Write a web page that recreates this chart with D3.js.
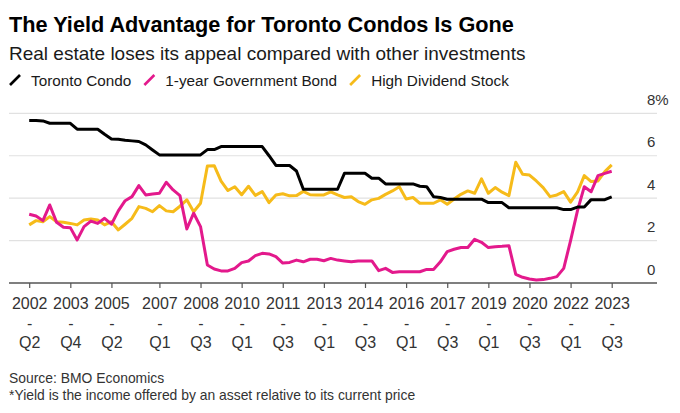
<!DOCTYPE html>
<html><head><meta charset="utf-8">
<script src="https://cdn.jsdelivr.net/npm/d3@7"></script>
<style>
body{margin:0;background:#fff}
svg{display:block}
text{font-family:"Liberation Sans",Arial,Helvetica,sans-serif}
</style>
</head><body><div id="chart"></div>
<script>
const quarters = [
 "2002Q2","2002Q3","2002Q4",
 "2003Q1","2003Q2","2003Q3","2003Q4","2004Q1","2004Q2","2004Q3","2004Q4",
 "2005Q1","2005Q2","2005Q3","2005Q4","2006Q1","2006Q2","2006Q3","2006Q4",
 "2007Q1","2007Q2","2007Q3","2007Q4","2008Q1","2008Q2","2008Q3","2008Q4",
 "2009Q1","2009Q2","2009Q3","2009Q4","2010Q1","2010Q2","2010Q3","2010Q4",
 "2011Q1","2011Q2","2011Q3","2011Q4","2012Q1","2012Q2","2012Q3","2012Q4",
 "2013Q1","2013Q2","2013Q3","2013Q4","2014Q1","2014Q2","2014Q3","2014Q4",
 "2015Q1","2015Q2","2015Q3","2015Q4","2016Q1","2016Q2","2016Q3","2016Q4",
 "2017Q1","2017Q2","2017Q3","2017Q4","2018Q1","2018Q2","2018Q3","2018Q4",
 "2019Q1","2019Q2","2019Q3","2019Q4","2020Q1","2020Q2","2020Q3","2020Q4",
 "2021Q1","2021Q2","2021Q3","2021Q4","2022Q1","2022Q2","2022Q3","2022Q4",
 "2023Q1","2023Q2","2023Q3"
];
const condo = [7.66,7.66,7.64,7.53,7.53,7.53,7.53,7.25,7.25,7.25,
 7.25,7.01,6.79,6.78,6.73,6.70,6.67,6.51,6.27,6.04,
 6.04,6.04,6.04,6.04,6.04,6.04,6.29,6.29,6.43,6.43,
 6.43,6.43,6.43,6.43,6.43,6.00,5.54,5.54,5.54,5.28,
 4.42,4.42,4.42,4.42,4.42,4.42,5.17,5.17,5.17,5.17,
 4.94,4.94,4.67,4.67,4.67,4.67,4.67,4.56,4.54,4.07,
 4.03,3.95,3.95,3.95,3.95,3.95,3.95,3.79,3.79,3.79,
 3.55,3.55,3.55,3.55,3.55,3.55,3.55,3.55,3.46,3.46,
 3.58,3.58,3.93,3.93,3.93,4.06];
const bond = [3.24,3.16,2.94,3.68,2.86,2.63,2.61,2.03,2.66,2.92,
 2.81,3.05,2.77,3.40,3.88,4.07,4.59,4.15,4.20,4.23,
 4.75,4.39,4.12,2.55,3.29,2.66,0.85,0.66,0.57,0.57,
 0.69,0.96,1.04,1.29,1.40,1.37,1.24,0.94,0.97,1.08,
 1.00,1.12,1.12,1.05,1.16,1.08,1.04,1.00,1.04,1.04,
 1.04,0.58,0.69,0.50,0.53,0.53,0.53,0.53,0.64,0.64,
 1.00,1.48,1.59,1.67,1.67,2.06,1.92,1.67,1.71,1.73,
 1.76,0.41,0.27,0.19,0.14,0.16,0.22,0.30,0.69,2.00,
 3.40,4.54,4.30,5.06,5.17,5.27];
const stock = [2.74,2.94,2.89,3.13,2.89,2.86,2.81,2.74,2.97,3.02,
 2.97,2.74,2.89,2.50,2.77,3.05,3.60,3.52,3.36,3.65,
 3.40,3.36,3.62,3.92,3.36,3.76,5.52,5.53,4.80,4.36,
 4.54,4.16,4.56,4.13,4.31,3.79,4.15,4.21,4.11,4.12,
 4.32,4.16,4.15,4.15,4.30,4.15,4.03,4.07,3.84,3.71,
 3.92,3.99,4.18,4.34,4.54,3.96,4.03,3.76,3.76,3.76,
 3.92,3.71,3.96,4.18,4.34,4.23,4.91,4.23,4.50,4.28,
 4.12,5.69,5.13,5.09,4.81,4.50,4.07,4.15,4.31,3.81,
 4.28,5.06,4.78,4.81,5.25,5.57];
const tickQuarters = ["2002Q2","2003Q4","2005Q2","2007Q1","2008Q3","2010Q1","2011Q3",
 "2013Q1","2014Q3","2016Q1","2017Q3","2019Q1","2020Q3","2022Q1","2023Q3"];
const yTicks = [0,2,4,6,8];
const seriesNames = ["Toronto Condo","1-year Government Bond","High Dividend Stock"];
const seriesColors = ["#000000","#e3198c","#f6bb1a"];
const title = "The Yield Advantage for Toronto Condos Is Gone";
const subtitle = "Real estate loses its appeal compared with other investments";
const footnotes = ["Source: BMO Economics","*Yield is the income offered by an asset relative to its current price"];

const W = 680, H = 413;
const svg = d3.select("#chart").append("svg").attr("width", W).attr("height", H);
svg.append("rect").attr("width", W).attr("height", H).attr("fill", "#fff");

svg.append("text").attr("x", 9).attr("y", 32).attr("font-size", 21.7).attr("font-weight", "bold")
  .attr("fill", "#000").text(title);
svg.append("text").attr("x", 9).attr("y", 60).attr("font-size", 19).attr("fill", "#1a1a1a").text(subtitle);

// legend
const lg = svg.append("g");
let lx = 10;
seriesNames.forEach((name, i) => {
  lg.append("line").attr("x1", lx).attr("y1", 85).attr("x2", lx + 10).attr("y2", 75)
    .attr("stroke", seriesColors[i]).attr("stroke-width", 2.6);
  const t = lg.append("text").attr("x", lx + 21).attr("y", 85.5).attr("font-size", 15.3)
    .attr("fill", "#1a1a1a").text(name);
  lx = lx + 21 + t.node().getComputedTextLength() + 13;
});

const x = d3.scalePoint().domain(quarters).range([29.2, 611.7]);
const y = d3.scaleLinear().domain([0, 8]).range([283, 113.3]);

// gridlines
svg.append("g").selectAll("line").data(yTicks.filter(d => d > 0)).join("line")
  .attr("x1", 9).attr("x2", 657).attr("y1", d => y(d)).attr("y2", d => y(d))
  .attr("stroke", "#e1e1e1").attr("stroke-width", 1.2);

// y axis labels
const ya = svg.append("g").attr("transform", "translate(647,0)")
  .call(d3.axisRight(y).tickValues(yTicks).tickSize(0).tickPadding(0)
    .tickFormat(d => d === 8 ? "8%" : String(d)));
ya.select(".domain").remove();
ya.selectAll("text").attr("x", 0).attr("dy", 0).attr("y", -9)
  .attr("text-anchor", "start").attr("font-size", 15).attr("font-family", null).attr("fill", "#333");

// x axis
const xa = svg.append("g").attr("transform", "translate(0,283)")
  .call(d3.axisBottom(x).tickValues(tickQuarters).tickSize(5).tickSizeOuter(0).tickFormat(""));
xa.select(".domain").remove();
xa.selectAll(".tick line").attr("stroke", "#555").attr("stroke-width", 1.2);
xa.selectAll(".tick").each(function(d) {
  const g = d3.select(this);
  const yr = d.slice(0, 4), q = d.slice(4);
  const t = g.append("text").attr("text-anchor", "middle").attr("font-size", 16)
    .attr("fill", "#333").attr("font-family", "Liberation Sans, Arial, sans-serif");
  t.append("tspan").attr("x", 0).attr("y", 26.3).text(yr);
  t.append("tspan").attr("x", 0).attr("y", 45.5).text("-");
  t.append("tspan").attr("x", 0).attr("y", 65).text(q);
});
svg.append("line").attr("x1", 9).attr("x2", 657).attr("y1", 283).attr("y2", 283)
  .attr("stroke", "#555").attr("stroke-width", 1.3);

// lines
const lineGen = d3.line().x((d, i) => x(quarters[i])).y(d => y(d));
const seriesData = [condo, bond, stock];
[2, 1, 0].forEach(k => {
  svg.append("path").datum(seriesData[k]).attr("d", lineGen)
    .attr("fill", "none").attr("stroke", seriesColors[k]).attr("stroke-width", 3)
    .attr("stroke-linejoin", "round").attr("stroke-linecap", "butt");
});

// footnotes
svg.append("text").attr("x", 9).attr("y", 383).attr("font-size", 13.9).attr("fill", "#333").text(footnotes[0]);
svg.append("text").attr("x", 9).attr("y", 399.5).attr("font-size", 13.9).attr("fill", "#333").text(footnotes[1]);
</script>
</body></html>
